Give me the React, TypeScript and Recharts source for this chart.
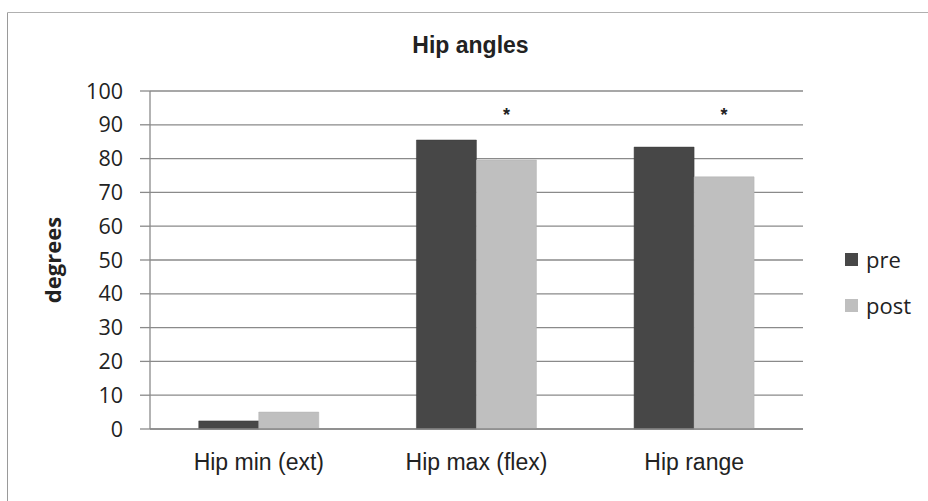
import React from 'react';
import { BarChart, Bar, XAxis, YAxis, CartesianGrid, LabelList } from 'recharts';

const categories = ['Hip min (ext)', 'Hip max (flex)', 'Hip range'];
const preValues = [2.4, 85.5, 83.4];
const postValues = [5.0, 79.6, 74.6];
const significant = [false, true, true];
const starLevel = 94.4;
const yTicks = [0, 10, 20, 30, 40, 50, 60, 70, 80, 90, 100];
const seriesNames = ['pre', 'post'];
const seriesColors = ['#474747', '#bfbfbf'];

const data = categories.map((c, i) => ({ name: c, pre: preValues[i], post: postValues[i] }));

const StarLabel = (props: any) => {
  const { x, y, width, height, value, index } = props;
  if (!significant[index] || !value) return null;
  const base = Number(y) + Number(height);
  const yStar = base - (starLevel * Number(height)) / Number(value);
  const fs = 18;
  return (
    <text
      x={Number(x) + Number(width) / 2}
      y={yStar + 0.59 * fs}
      textAnchor="middle"
      fontFamily="'Liberation Sans', Arial, sans-serif"
      fontWeight="bold"
      fontSize={fs}
      fill="#222"
    >
      *
    </text>
  );
};

const YLabel = (props: any) => {
  const vb = props.viewBox || {};
  const cy = vb.y + vb.height / 2;
  const x = 61;
  return (
    <text
      x={x}
      y={cy}
      transform={`rotate(-90, ${x}, ${cy})`}
      textAnchor="middle"
      fontFamily="'Open Sans', sans-serif"
      fontWeight="bold"
      fontSize={22}
      fill="#222"
    >
      degrees
    </text>
  );
};

export default function App() {
  return (
    <div style={{ position: 'absolute', left: 0, top: 0, width: 928, height: 501, background: '#fff' }}>
      <BarChart
        width={928}
        height={501}
        data={data}
        margin={{ top: 91, right: 125, bottom: 32, left: 50 }}
        barCategoryGap="22.4%"
        barGap={0}
      >
        <CartesianGrid horizontal vertical={false} stroke="#8a8a8a" strokeWidth={1.3} />
        <XAxis
          dataKey="name"
          height={40}
          tickLine={false}
          tickSize={0}
          tickMargin={25}
          axisLine={{ stroke: '#8a8a8a', strokeWidth: 1.3 }}
          tick={{ fontFamily: "'Liberation Sans', Arial, sans-serif", fontSize: 23, fill: '#222' }}
          interval={0}
        />
        <YAxis
          width={100}
          domain={[0, 100]}
          ticks={yTicks}
          interval={0}
          tickSize={10}
          tickMargin={17}
          tickLine={{ stroke: '#8a8a8a', strokeWidth: 1.3 }}
          axisLine={{ stroke: '#8a8a8a', strokeWidth: 1.3 }}
          tick={{ fontFamily: "'Open Sans', sans-serif", fontSize: 21.5, fill: '#222' }}
          label={<YLabel />}
        />
        <Bar dataKey="pre" name="pre" fill={seriesColors[0]} stroke="#3a3a3a" strokeWidth={0.5} isAnimationActive={false} />
        <Bar dataKey="post" name="post" fill={seriesColors[1]} stroke="#b0b0b0" strokeWidth={0.5} isAnimationActive={false}>
          <LabelList dataKey="post" content={<StarLabel />} />
        </Bar>
      </BarChart>
      <div
        style={{
          position: 'absolute',
          left: 845,
          top: 248,
          width: 83,
          fontFamily: "'Open Sans', sans-serif",
          fontSize: 22,
          color: '#222',
        }}
      >
        {seriesNames.map((n, i) => (
          <div key={n} style={{ display: 'flex', alignItems: 'flex-start', height: 22, lineHeight: '22px', marginBottom: i === 0 ? 24 : 0 }}>
            <div style={{ width: 13, height: 13, background: seriesColors[i], marginTop: 5, marginRight: 8, flexShrink: 0 }} />
            <span>{n}</span>
          </div>
        ))}
      </div>
      <svg width={928} height={501} style={{ position: 'absolute', left: 0, top: 0, pointerEvents: 'none' }}>
        <line x1={7.5} y1={12.5} x2={7.5} y2={501} stroke="#9a9a9a" strokeWidth={1} />
        <line x1={7.5} y1={12.5} x2={928} y2={12.5} stroke="#b0b0b0" strokeWidth={1} />
        <text
          x={470.5}
          y={53}
          textAnchor="middle"
          fontFamily="'Liberation Sans', Arial, sans-serif"
          fontWeight="bold"
          fontSize={23}
          fill="#222"
        >
          Hip angles
        </text>
      </svg>
    </div>
  );
}
